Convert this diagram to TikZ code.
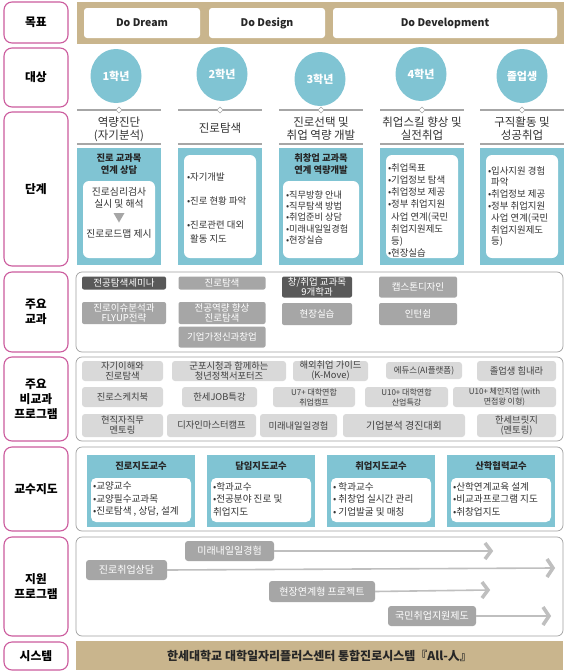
\documentclass[tikz,border=0pt]{standalone}
\usepackage{fontspec}
\setmainfont{Noto Sans CJK KR}
\usetikzlibrary{shapes.geometric}
\definecolor{pinkb}{HTML}{CC5C9E}
\definecolor{tanc}{HTML}{C9B58D}
\definecolor{sky}{HTML}{80C4D3}
\definecolor{dgray}{HTML}{595959}
\definecolor{mgray}{HTML}{A6A6A6}
\definecolor{lgray}{HTML}{D9D9D9}
\definecolor{cgray}{HTML}{A0A0A0}
\definecolor{hgray}{HTML}{A6A6A6}
\definecolor{fgray}{HTML}{BFBFBF}
\definecolor{txt}{HTML}{333333}
\definecolor{ltxt}{HTML}{404040}
\begin{document}
\begin{tikzpicture}[x=1pt,y=-1pt,
 every node/.style={inner sep=0pt, outer sep=0pt},
 lab/.style={draw=pinkb, line width=1.1pt, rounded corners=8pt, fill=white, font=\fontsize{11.8}{15}\selectfont\bfseries, text=black, align=center, minimum width=64pt},
 tanbar/.style={fill=tanc, minimum width=487pt},
 goal/.style={fill=white, rounded corners=3pt, minimum height=30pt, font=\fontsize{10.5}{12}\selectfont\bfseries, text=black!85},
 grade/.style={ellipse, fill=sky, minimum width=51pt, minimum height=54pt, text=white, font=\fontsize{11}{13}\selectfont\bfseries},
 hdr/.style={font=\fontsize{11.5}{13}\selectfont, text=txt, align=center},
 hline/.style={draw=hgray, line width=1.2pt},
 dia/.style={diamond, draw=hgray, fill=white, line width=0.6pt, minimum size=6pt},
 skybox/.style={fill=sky, minimum width=84pt, minimum height=117pt},
 wbox/.style={fill=white, rounded corners=6pt, minimum width=72pt},
 btitle/.style={font=\fontsize{9.3}{12}\selectfont\bfseries, text=black!85, align=center},
 itm/.style={font=\fontsize{9.4}{12}\selectfont, text=txt, align=left, anchor=west},
 cont/.style={draw=cgray, line width=0.7pt, rounded corners=6pt, fill=white, minimum width=487pt},
 dk/.style={fill=dgray, text=white, rounded corners=2pt, font=\fontsize{9.5}{10}\selectfont, align=center},
 md/.style={fill=mgray, text=white, rounded corners=2pt, font=\fontsize{9.5}{10}\selectfont, align=center},
 lt/.style={fill=lgray, text=ltxt, rounded corners=3pt, font=\fontsize{9.3}{10}\selectfont, align=center, minimum height=20pt},
 prof/.style={fill=sky, minimum width=108pt, minimum height=72pt},
 ptitle/.style={font=\fontsize{9.3}{11}\selectfont\bfseries, text=black!85},
 pbox/.style={fill=white, rounded corners=5pt, minimum width=100pt, minimum height=44pt},
 pitem/.style={font=\fontsize{9.6}{12.5}\selectfont, text=txt, align=left, anchor=west},
 supbox/.style={fill=mgray, text=white, rounded corners=3pt, font=\fontsize{10}{11}\selectfont, minimum height=20pt},
 flow/.style={draw=fgray, line width=1.6pt},
 chev/.style={draw=fgray, line width=3.5pt, line join=miter},
]
\useasboundingbox (0,0) rectangle (567,672);
\fill[white] (0,0) rectangle (567,672);

% left labels
\node[lab, minimum height=41pt] (l1) at (36,22.5) {목표};
\node[lab, minimum height=59pt] (l2) at (36,77.5) {대상};
\node[lab, minimum height=154pt] (l3) at (36,189) {단계};
\node[lab, minimum height=80pt] (l4) at (36,312) {주요\\교과};
\node[lab, minimum height=84pt] (l5) at (36,399) {주요\\비교과\\프로그램};
\node[lab, minimum height=84pt] (l6) at (36,489) {교수지도};
\node[lab, minimum height=99pt] (l7) at (36,586.5) {지원\\프로그램};
\node[lab, minimum height=28pt] (l8) at (36,656) {시스템};

% goals
\node[tanbar, minimum height=42pt] (gbar) at (320,23) {};
\node[goal, minimum width=116pt] (g1) at (142,23) {Do Dream};
\node[goal, minimum width=116pt] (g2) at (267,23) {Do Design};
\node[goal, minimum width=224pt] (g3) at (445,23) {Do Development};

% grades
\node[grade] (y1) at (116,76) {1학년};
\node[grade] (y2) at (222,74) {2학년};
\node[grade] (y3) at (320,79) {3학년};
\node[grade] (y4) at (421,74) {4학년};
\node[grade] (y5) at (522,76) {졸업생};

% stage headers
\foreach \c in {119,220,321,422,522}{
  \draw[hline] (\c-42,110) -- (\c+42,110);
  \draw[hline] (\c-42,144) -- (\c+42,144);
}
\node[dia] (d1) at (119,110) {};
\node[dia] (d2) at (220,110) {};
\node[dia] (d3) at (321,110) {};
\node[dia] (d4) at (422,110) {};
\node[dia] (d5) at (522,110) {};
\node[hdr] (h1) at (119,129) {역량진단\\(자기분석)};
\node[hdr] (h2) at (220,128) {진로탐색};
\node[hdr] (h3) at (321,129) {진로선택 및\\취업 역량 개발};
\node[hdr] (h4) at (422,129) {취업스킬 향상 및\\실전취업};
\node[hdr] (h5) at (522,129) {구직활동 및\\성공취업};

% stage boxes
\node[skybox] (s1) at (119,206.5) {};
\node[skybox] (s2) at (220,206.5) {};
\node[skybox] (s3) at (321,206.5) {};
\node[skybox] (s4) at (422,206.5) {};
\node[skybox] (s5) at (522,206.5) {};
\node[btitle] (t1) at (119,164) {진로 교과목\\연계 상담};
\node[btitle] (t3) at (321,164) {취창업 교과목\\연계 역량개발};
\node[wbox, minimum height=77pt] (w1) at (119,219.5) {};
\node[wbox, minimum height=103pt] (w2) at (220,206.5) {};
\node[wbox, minimum height=77pt, minimum width=76pt] (w3) at (321,219.5) {};
\node[wbox, minimum height=103pt] (w4) at (422,206.5) {};
\node[wbox, minimum height=103pt] (w5) at (522,206.5) {};
\node[font=\fontsize{9.8}{12}\selectfont, text=txt, align=center] (c1a) at (119,198) {진로심리검사\\실시 및 해석};
\fill[mgray] (113.5,213) -- (124.5,213) -- (119,222.5) -- cycle;
\node[font=\fontsize{9.8}{12}\selectfont, text=txt] (c1b) at (119,233.5) {진로로드맵 제시};
\node[itm] (c2a) at (187,177) {•자기개발};
\node[itm] (c2b) at (187,201) {•진로 현황 파악};
\node[itm, font=\fontsize{9.4}{14}\selectfont] (c2c) at (187,232) {•진로관련 대외\\\phantom{•}활동 지도};
\node[itm, font=\fontsize{9.2}{11.3}\selectfont] (c3) at (286,217.5) {•직무방향 안내\\•직무탐색 방법\\•취업준비 상담\\•미래내일일경험\\•현장실습};
\node[itm, font=\fontsize{9.4}{12.1}\selectfont] (c4) at (388,210.5) {•취업목표\\•기업정보 탐색\\•취업정보 제공\\•정부 취업지원\\\phantom{•}사업 연계(국민\\\phantom{•}취업지원제도\\\phantom{•}등)\\•현장실습};
\node[itm, font=\fontsize{9.4}{11.8}\selectfont] (c5) at (488,206.5) {•입사지원 경험\\\phantom{•}파악\\•취업정보 제공\\•정부 취업지원\\\phantom{•}사업 연계(국민\\\phantom{•}취업지원제도\\\phantom{•}등)};

% main courses
\node[cont, minimum height=80pt] (k0) at (319.5,312) {};
\node[dk, minimum width=84pt, minimum height=13pt] (k1) at (124,283) {전공탐색세미나};
\node[md, minimum width=87pt, minimum height=13pt] (k2) at (222,283) {진로탐색};
\node[dk, minimum width=70pt, minimum height=21pt] (k3) at (317,287) {창/취업 교과목\\9개학과};
\node[md, minimum width=78pt, minimum height=21pt] (k4) at (418,287) {캡스톤디자인};
\node[md, minimum width=84pt, minimum height=22pt] (k5) at (124,313) {진로이슈분석과\\FLYUP전략};
\node[md, minimum width=87pt, minimum height=22pt] (k6) at (222,313) {전공역량 향상\\진로탐색};
\node[md, minimum width=70pt, minimum height=22pt] (k7) at (317,314) {현장실습};
\node[md, minimum width=78pt, minimum height=22pt] (k8) at (418,314) {인턴쉽};
\node[md, minimum width=87pt, minimum height=21pt] (k9) at (222,337) {기업가정신과창업};

% extracurricular
\node[cont, minimum height=84pt] (e0) at (319.5,399) {};
\node[lt, minimum width=81pt] (e1) at (122.5,371) {자기이해와\\진로탐색};
\node[lt, minimum width=114pt] (e2) at (229,371) {군포시청과 함께하는\\청년정책서포터즈};
\node[lt, minimum width=75pt] (e3) at (330.5,371) {해외취업 가이드\\(K-Move)};
\node[lt, minimum width=76pt, minimum height=17pt, font=\fontsize{8.5}{10}\selectfont] (e4) at (424,370.5) {에듀스(AI플랫폼)};
\node[lt, minimum width=79pt] (e5) at (516.5,371) {졸업생 힘내라};
\node[lt, minimum width=81pt] (e6) at (122.5,397) {진로스케치북};
\node[lt, minimum width=75pt] (e7) at (219.5,397) {한세JOB특강};
\node[lt, minimum width=82pt, font=\fontsize{8}{10}\selectfont] (e8) at (314,397) {U7+ 대학연합\\취업캠프};
\node[lt, minimum width=83pt, font=\fontsize{8}{10}\selectfont] (e9) at (406.5,397) {U10+ 대학연합\\산업특강};
\node[lt, minimum width=103pt, font=\fontsize{8}{10}\selectfont] (e10) at (504.5,397) {U10+ 체인지업 (with\\면접왕 이형)};
\node[lt, minimum width=81pt, minimum height=23pt] (e11) at (122.5,425.5) {현직자직무\\멘토링};
\node[lt, minimum width=89pt, minimum height=23pt] (e12) at (211.5,425.5) {디자인마스터캠프};
\node[lt, minimum width=77pt, minimum height=23pt] (e13) at (298.5,425.5) {미래내일일경험};
\node[lt, minimum width=122pt, minimum height=23pt, font=\fontsize{10}{10}\selectfont] (e14) at (404,425.5) {기업분석 경진대회};
\node[lt, minimum width=79pt, minimum height=23pt] (e15) at (516.5,425.5) {한세브릿지\\(멘토링)};

% professors
\node[cont, minimum height=84pt] (p0) at (319.5,489) {};
\node[prof] (p1) at (141,491) {};
\node[prof] (p2) at (261,491) {};
\node[prof] (p3) at (381,491) {};
\node[prof] (p4) at (501,491) {};
\node[ptitle] (pt1) at (141,466) {진로지도교수};
\node[ptitle] (pt2) at (261,466) {담임지도교수};
\node[ptitle] (pt3) at (381,466) {취업지도교수};
\node[ptitle] (pt4) at (501,466) {산학협력교수};
\node[pbox] (pb1) at (141,500) {};
\node[pbox] (pb2) at (261,500) {};
\node[pbox] (pb3) at (381,500) {};
\node[pbox] (pb4) at (501,500) {};
\node[pitem] (pi1) at (93,499) {•교양교수\\•교양필수교과목\\•진로탐색 , 상담, 설계};
\node[pitem] (pi2) at (213,499) {•학과교수\\•전공분야 진로 및\\취업지도};
\node[pitem] (pi3) at (333,499) {• 학과교수\\• 취창업 실시간 관리\\• 기업발굴 및 매칭};
\node[pitem] (pi4) at (453,499) {•산학연계교육 설계\\•비교과프로그램 지도\\•취창업지도};

% support programs
\node[cont, minimum height=99pt] (r0) at (319.5,586.5) {};
\node[supbox, minimum width=89pt] (r1) at (229.5,551) {미래내일일경험};
\node[supbox, minimum width=81pt] (r2) at (126.5,570) {진로취업상담};
\node[supbox, minimum width=106pt, minimum height=21pt] (r3) at (322,591.5) {현장연계형 프로젝트};
\node[supbox, minimum width=88pt] (r4) at (432,616) {국민취업지원제도};
\coordinate (a1) at (491,551);
\coordinate (a2) at (553,568);
\coordinate (a3) at (488,590);
\coordinate (a4) at (549,616);
\draw[flow] (r1.east) -- (a1);
\draw[flow] (r2.east) -- (a2);
\draw[flow] (r3.east) -- (a3);
\draw[flow] (r4.east) -- (a4);
\draw[chev] (a1) ++(-6,-8) -- (a1) -- ++(-6,8);
\draw[chev] (a2) ++(-6,-9) -- (a2) -- ++(-6,9);
\draw[chev] (a3) ++(-6,-8) -- (a3) -- ++(-6,8);
\draw[chev] (a4) ++(-6,-9) -- (a4) -- ++(-6,9);

% system
\node[tanbar, minimum height=29pt, font=\fontsize{12}{13}\selectfont\bfseries, text=black!85] (sys) at (319.5,655.5) {한세대학교 대학일자리플러스센터 통합진로시스템『All-人』};
\end{tikzpicture}
\end{document}
